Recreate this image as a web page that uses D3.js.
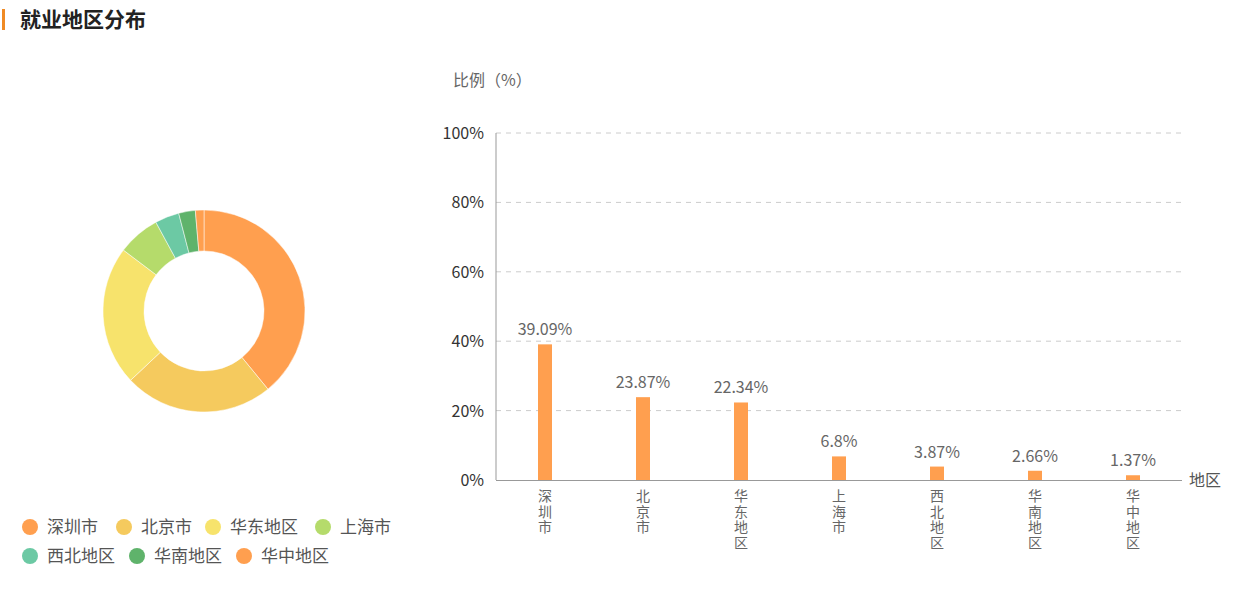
<!DOCTYPE html><html><head><meta charset="utf-8">
<script src="https://d3js.org/d3.v7.min.js"></script>
<style>body{margin:0;background:#fff;font-family:"Noto Sans CJK SC","Noto Sans",sans-serif}</style></head><body>
<svg id="c" width="1242" height="592"></svg>
<script>
const categories=["深圳市","北京市","华东地区","上海市","西北地区","华南地区","华中地区"];
const values=[39.09,23.87,22.34,6.8,3.87,2.66,1.37];
const pieColors=["#ff9f4f","#f5ca5e","#f7e36c","#b5db6b","#6cc9a4","#5fb36b","#ff9f4f"];
const yTicks=[0,20,40,60,80,100];
const svg=d3.select("#c");
const F='"Noto Sans CJK SC",sans-serif';
svg.append("rect").attr("x",2).attr("y",9).attr("width",3).attr("height",21).attr("fill","#f08a24");
svg.append("text").attr("x",20).attr("y",27).attr("font-size",21).attr("font-weight","bold").attr("font-family",F).attr("fill","#222").text("就业地区分布");
const g=svg.append("g").attr("transform","translate(204,311)");
const pie=d3.pie().sort(null)(values);
const arc=d3.arc().innerRadius(60).outerRadius(101);
g.selectAll("path").data(pie).join("path").attr("d",arc).attr("fill",(d,i)=>pieColors[i]).attr("stroke","#fff").attr("stroke-width",0.5);
const lp=[[30,527],[124,527],[213,527],[323,527],[30,556],[137,556],[244,556]];
categories.forEach((c,i)=>{
 svg.append("circle").attr("cx",lp[i][0]).attr("cy",lp[i][1]).attr("r",8).attr("fill",pieColors[i]);
 svg.append("text").attr("x",lp[i][0]+17).attr("y",lp[i][1]+6).attr("font-size",17).attr("font-family",F).attr("fill","#555").text(c);
});
const x=d3.scaleBand().domain(categories).range([496,1182]);
const y=d3.scaleLinear().domain([0,100]).range([480,133]);
yTicks.forEach(t=>{
 if(t>0) svg.append("line").attr("x1",496).attr("x2",1182).attr("y1",y(t)).attr("y2",y(t)).attr("stroke","#ccc").attr("stroke-dasharray","5,5");
 svg.append("text").attr("x",484).attr("y",y(t)+6).attr("text-anchor","end").attr("font-size",16).attr("font-family",F).attr("fill","#333").text(t+"%");
});
svg.append("line").attr("x1",496).attr("x2",496).attr("y1",133).attr("y2",480).attr("stroke","#999");
svg.append("line").attr("x1",496).attr("x2",1182).attr("y1",480.5).attr("y2",480.5).attr("stroke","#999");
svg.append("text").attr("x",453).attr("y",86).attr("font-size",16).attr("font-family",F).attr("fill","#666").text("比例（%）");
svg.append("text").attr("x",1189).attr("y",486).attr("font-size",16).attr("font-family",F).attr("fill","#555").text("地区");
categories.forEach((c,i)=>{
 const cx=x(c)+x.bandwidth()/2;
 svg.append("rect").attr("x",cx-7).attr("y",y(values[i])).attr("width",14).attr("height",480-y(values[i])).attr("fill","#ff9f4f");
 svg.append("text").attr("x",cx).attr("y",y(values[i])-9).attr("text-anchor","middle").attr("font-size",16).attr("font-family",F).attr("fill","#666").text(values[i]+"%");
 svg.append("text").attr("x",cx).attr("y",489).attr("font-size",14).attr("font-family",F).attr("fill","#666")
  .style("writing-mode","vertical-rl").style("letter-spacing","1.5px").text(c);
});
</script></body></html>
